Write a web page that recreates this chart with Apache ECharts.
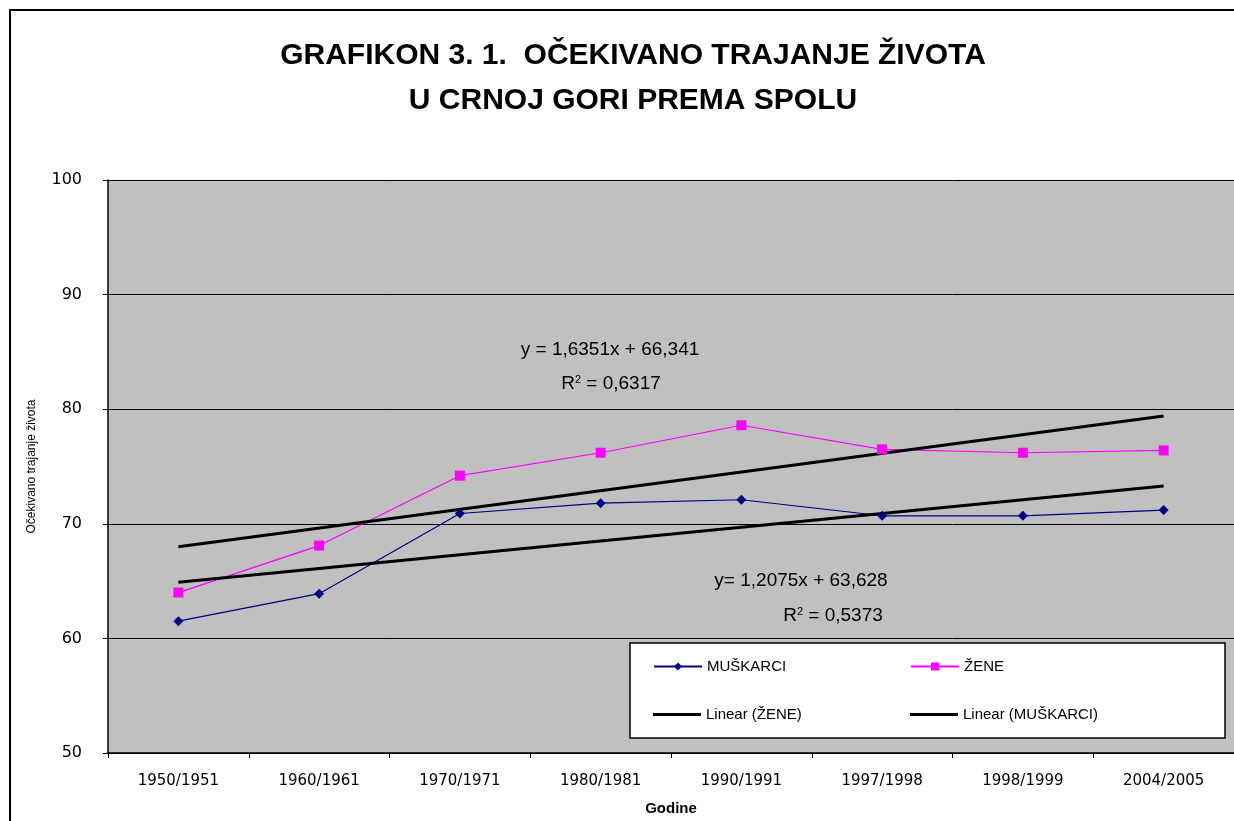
<!DOCTYPE html>
<html>
<head>
<meta charset="utf-8">
<script src="https://cdn.jsdelivr.net/npm/echarts@6/dist/echarts.min.js"></script>
<style>
  html, body { margin: 0; padding: 0; background: #fff; }
  #main { width: 1234px; height: 821px; }
</style>
</head>
<body>
<div id="main"></div>
<script>
var godine = ['1950/1951', '1960/1961', '1970/1971', '1980/1981', '1990/1991', '1997/1998', '1998/1999', '2004/2005'];
var muskarci = [61.5, 63.9, 70.9, 71.8, 72.1, 70.7, 70.7, 71.2];
var zene = [64.0, 68.1, 74.2, 76.2, 78.6, 76.5, 76.2, 76.4];
// trend lines, end points
var linZene = [68.0, null, null, null, null, null, null, 79.4];
var linMuskarci = [64.9, null, null, null, null, null, null, 73.3];
var yTicks = [50, 60, 70, 80, 90, 100];

var font = 'Liberation Sans, Arial, sans-serif';
var chart = echarts.init(document.getElementById('main'));

function legendAt(name, x, y, trend) {
    var item = trend ? { name: name, icon: 'rect' } : name;
    return {
        data: [item], left: x, top: y, itemWidth: 48, itemHeight: trend ? 3 : 10,
        textStyle: { fontFamily: font, fontSize: 15, color: '#000' },
        selectedMode: false
    };
}

var rich = { s: { fontSize: 11, verticalAlign: 'top', padding: [0, 0, 9, 0], fontFamily: font } };

var option = {
    animation: false,
    backgroundColor: '#fff',
    title: {
        text: 'GRAFIKON 3. 1.  OČEKIVANO TRAJANJE ŽIVOTA\nU CRNOJ GORI PREMA SPOLU',
        left: 628, textAlign: 'center', top: 28,
        textStyle: { fontFamily: font, fontSize: 30, fontWeight: 'bold', color: '#000', lineHeight: 45 }
    },
    grid: {
        left: 108, top: 180, width: 1136, height: 577,
        show: true, backgroundColor: '#c0c0c0', borderWidth: 0
    },
    legend: [
        legendAt('MUŠKARCI', 648, 654),
        legendAt('ŽENE', 905, 654),
        legendAt('Linear (ŽENE)', 648, 702, true),
        legendAt('Linear (MUŠKARCI)', 905, 702, true)
    ],
    xAxis: {
        type: 'category', data: godine, boundaryGap: true,
        name: 'Godine', nameLocation: 'middle', nameGap: 48,
        nameTextStyle: { fontFamily: font, fontSize: 15, fontWeight: 'bold', color: '#000' },
        axisLine: { lineStyle: { color: '#000', width: 1.5 } },
        axisTick: { show: true, length: 5, lineStyle: { color: '#000' } },
        axisLabel: { fontFamily: 'DejaVu Sans, sans-serif', fontSize: 15, color: '#000', margin: 21, interval: 0 },
        splitLine: { show: false }
    },
    yAxis: {
        type: 'value', min: yTicks[0], max: yTicks[yTicks.length - 1], interval: 10,
        name: 'Očekivano trajanje života', nameLocation: 'middle', nameGap: 70,
        nameTextStyle: { fontFamily: font, fontSize: 12, color: '#000' },
        axisLine: { show: true, lineStyle: { color: '#000', width: 1.5 } },
        axisTick: { show: true, length: 5, lineStyle: { color: '#000' } },
        axisLabel: { fontFamily: 'DejaVu Sans, sans-serif', fontSize: 16, color: '#000', margin: 26 },
        splitLine: { lineStyle: { color: '#000', width: 1 } }
    },
    series: [
        {
            name: 'MUŠKARCI', type: 'line', data: muskarci,
            symbol: 'diamond', symbolSize: 10, showAllSymbol: true,
            lineStyle: { color: '#000080', width: 1.2 },
            itemStyle: { color: '#000080' }
        },
        {
            name: 'ŽENE', type: 'line', data: zene,
            symbol: 'rect', symbolSize: 10, showAllSymbol: true,
            lineStyle: { color: '#ff00ff', width: 1.2 },
            itemStyle: { color: '#ff00ff' }
        },
        {
            name: 'Linear (ŽENE)', type: 'line', data: linZene, connectNulls: true,
            symbol: 'none', lineStyle: { color: '#000', width: 3 }, itemStyle: { color: '#000' }
        },
        {
            name: 'Linear (MUŠKARCI)', type: 'line', data: linMuskarci, connectNulls: true,
            symbol: 'none', lineStyle: { color: '#000', width: 3 }, itemStyle: { color: '#000' }
        }
    ],
    graphic: [
        {
            type: 'rect', z: -10, silent: true,
            shape: { x: 10, y: 10, width: 1300, height: 900 },
            style: { fill: 'none', stroke: '#000', lineWidth: 2 }
        },
        {
            type: 'rect', z: 3, silent: true,
            shape: { x: 630, y: 643, width: 595, height: 95 },
            style: { fill: '#fff', stroke: '#000', lineWidth: 1.5 }
        },
        {
            type: 'text', z: 5, x: 610, y: 350,
            style: { text: 'y = 1,6351x + 66,341', fontFamily: font, fontSize: 19, fill: '#000', align: 'center', verticalAlign: 'middle' }
        },
        {
            type: 'text', z: 5, x: 611, y: 384,
            style: { text: 'R{s|2} = 0,6317', fontFamily: font, fontSize: 19, fill: '#000', align: 'center', verticalAlign: 'middle', rich: rich }
        },
        {
            type: 'text', z: 5, x: 801, y: 581,
            style: { text: 'y= 1,2075x + 63,628', fontFamily: font, fontSize: 19, fill: '#000', align: 'center', verticalAlign: 'middle' }
        },
        {
            type: 'text', z: 5, x: 833, y: 616,
            style: { text: 'R{s|2} = 0,5373', fontFamily: font, fontSize: 19, fill: '#000', align: 'center', verticalAlign: 'middle', rich: rich }
        }
    ]
};

chart.setOption(option);
window.addEventListener('resize', function() {
    chart.resize();
});
</script>
</body>
</html>
